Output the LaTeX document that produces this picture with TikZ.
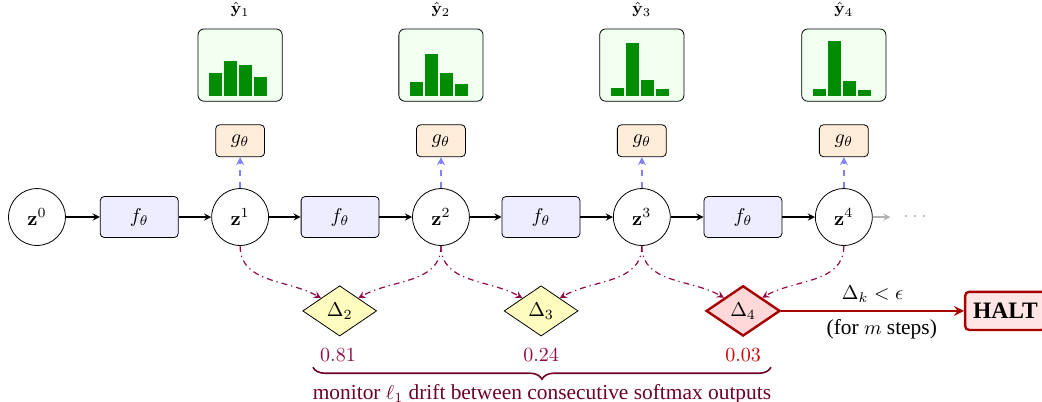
\documentclass[tikz,border=0pt]{standalone}
\usepackage[no-math]{fontspec}
\setmainfont{Liberation Serif}[Scale=1.07]
\usetikzlibrary{shapes.geometric,decorations.pathreplacing,positioning}

\definecolor{driftcol}{RGB}{145,10,70}
\definecolor{bracecol}{RGB}{110,0,40}
\definecolor{haltcol}{RGB}{166,0,0}

\tikzstyle{state}=[draw,thin,circle,minimum size=1cm,inner sep=0pt]
\tikzstyle{fbox}=[draw,rounded corners=2pt,fill=blue!7,
    minimum width=1.37cm,minimum height=0.72cm]
\tikzstyle{gbox}=[draw,rounded corners=2pt,fill=orange!15,
    minimum width=0.86cm,minimum height=0.56cm]
\tikzstyle{histbox}=[draw,rounded corners=3pt,fill=green!6,
    minimum width=1.48cm,minimum height=1.27cm]
\tikzstyle{bar}=[fill=green!55!black]
\tikzstyle{delta}=[draw,diamond,fill=yellow!25,minimum width=1.3cm,
    minimum height=0.76cm,inner sep=1pt]
\tikzstyle{delta stop}=[delta,fill=red!15,draw=haltcol,very thick]
\tikzstyle{halt}=[draw=haltcol,very thick,rounded corners=2pt,fill=red!10,
    font=\fontsize{11}{13}\selectfont\bfseries,minimum height=0.67cm,inner sep=4pt]
\tikzstyle{transition}=[semithick,->,>=stealth]
\tikzstyle{readout}=[thick,dashed,->,>=stealth,color=blue!50]
\tikzstyle{driftline}=[semithick,dash dot,->,>=stealth,color=driftcol]

% one softmax output: box, label and four bars
\newcommand{\histogram}[4]{
    \node[histbox] at (#1) (#2) {};
    \node[font=\footnotesize,above=2pt of #2] {$\hat{\mathbf{y}}_{#3}$};
    \begin{scope}[shift={(#2.center)}]
        \foreach \h [count=\i] in {#4}
            \fill[bar] (-0.545+0.264*\i-0.264,-0.545) rectangle +(0.234,\h);
    \end{scope}
}
% one refinement step: f box, state, readout
\newcommand{\stage}[4]{
    \node[fbox] at (#1-1.773,0) (f#2) {$f_\theta$};
    \node[state] at (#1,0) (z#2) {$\mathbf{z}^#2$};
    \node[gbox] at (#1,1.34) (g#2) {$g_\theta$};
    \histogram{#1,2.67}{h#2}{#2}{#4}
    \draw[transition] (z#3) -- (f#2);
    \draw[transition] (f#2) -- (z#2);
    \draw[readout] (z#2) -- (g#2);
}

\begin{document}
\begin{tikzpicture}
    \useasboundingbox (0,3.814) rectangle (18.313,-3.251);
    \node[state] at (0.65,0) (z0) {$\mathbf{z}^0$};
    %
    \stage{4.22}{1}{0}{0.40,0.62,0.54,0.33}
    \stage{7.75}{2}{1}{0.25,0.74,0.41,0.22}
    \stage{11.28}{3}{2}{0.14,0.94,0.28,0.12}
    \stage{14.83}{4}{3}{0.12,0.97,0.26,0.10}
    %
    \coordinate (more) at (15.65,0);
    \node[text=gray!60,inner sep=0pt] at (16.08,0) (dots) {$\cdots$};
    \draw[transition,gray!60] (z4) -- (more);
    %
    \node[delta] at (5.97,-1.65) (d2) {$\Delta_2$};
    \node[delta] at (9.51,-1.65) (d3) {$\Delta_3$};
    \node[delta stop] at (13.06,-1.65) (d4) {$\Delta_4$};
    \node[halt] at (17.67,-1.65) (stop) {HALT};
    %
    \draw[driftline] (z1.south) to[out=-90,in=150] (d2.north west);
    \draw[driftline] (z2.south) to[out=-90,in=30] (d2.north east);
    \draw[driftline] (z2.south) to[out=-90,in=150] (d3.north west);
    \draw[driftline] (z3.south) to[out=-90,in=30] (d3.north east);
    \draw[driftline] (z3.south) to[out=-90,in=150] (d4.north west);
    \draw[driftline] (z4.south) to[out=-90,in=30] (d4.north east);
    %
    \draw[->,>=stealth,very thick,haltcol] (d4) --
        node[above,text=black] {$\Delta_k < \epsilon$}
        node[below,pos=0.55,text=black] {(for $m$ steps)} (stop);
    %
    \node[text=driftcol] at (5.94,-2.42) (v2) {$0.81$};
    \node[text=driftcol] at (9.51,-2.42) (v3) {$0.24$};
    \node[text=red!80!black] at (13.06,-2.42) (v4) {$0.03$};
    \coordinate (bl) at (5.50,-2.64);
    \coordinate (br) at (13.55,-2.64);
    \draw[thick,bracecol,decorate,decoration={brace,mirror,amplitude=6pt}]
        (bl) -- (br) node[midway,below=7pt,text=bracecol,inner sep=1pt]
        {monitor $\ell_1$ drift between consecutive softmax outputs};
\end{tikzpicture}
\end{document}
